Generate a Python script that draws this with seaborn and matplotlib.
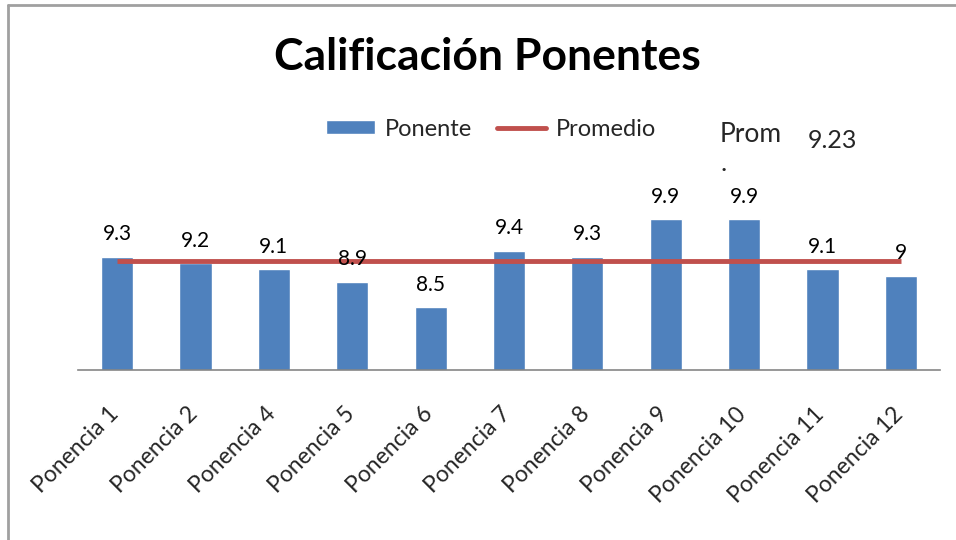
import numpy as np
import pandas as pd
import matplotlib
matplotlib.use("Agg")
import matplotlib.pyplot as plt
import seaborn as sns
from matplotlib.patches import Patch
from matplotlib.lines import Line2D
import matplotlib.transforms as mtransforms

ponencias = ['Ponencia 1', 'Ponencia 2', 'Ponencia 4', 'Ponencia 5', 'Ponencia 6',
             'Ponencia 7', 'Ponencia 8', 'Ponencia 9', 'Ponencia 10', 'Ponencia 11',
             'Ponencia 12']
calificacion = [9.3, 9.2, 9.1, 8.9, 8.5, 9.4, 9.3, 9.9, 9.9, 9.1, 9.0]
promedio = 9.23

sns.set_style("white")
plt.rcParams['font.family'] = ['Lato', 'DejaVu Sans']

df = pd.DataFrame({'ponencia': ponencias, 'calif': calificacion})
df['prom'] = promedio

fig = plt.figure(figsize=(9.56, 5.4), dpi=100)
ax = fig.add_axes([78/956, 170/540, 862/956, 188.6/540])

sns.barplot(data=df, x='ponencia', y='calif', color='#4F81BD', saturation=1,
            width=0.41, ax=ax)
ax.plot(np.arange(len(df)), df['prom'], color='#C0504D', lw=3.5, solid_capstyle='butt')

for con in ax.containers:
    ax.bar_label(con, labels=[f'{v:g}' for v in df['calif']], padding=9,
                 fontsize=15, color='black')

ax.set_ylim(7.5, 10.5)
ax.set_xlim(-0.5, len(df) - 0.5)
ax.set_xlabel('')
ax.set_ylabel('')
ax.set_yticks([])
for s in ['top', 'right', 'left']:
    ax.spines[s].set_visible(False)
ax.spines['bottom'].set_color('#868686')
ax.spines['bottom'].set_linewidth(1.2)
ax.tick_params(axis='x', length=0, pad=24)
ax.set_xticks(np.arange(len(df)))
ax.set_xticklabels(ponencias, rotation=45, ha='right', fontsize=16.5)
off = mtransforms.ScaledTranslation(6/100, 0, fig.dpi_scale_trans)
for lab in ax.get_xticklabels():
    lab.set_transform(lab.get_transform() + off)

fig.text(487/956, 1 - 57/540, 'Calificación Ponentes', ha='center', va='center',
         fontsize=32, fontweight='bold', color='black')

handles = [Patch(facecolor='#4F81BD', label='Ponente'),
           Line2D([0], [0], color='#C0504D', lw=3.5, label='Promedio')]
fig.legend(handles=handles, loc='center', bbox_to_anchor=(491/956, 1 - 129/540),
           ncol=2, frameon=False, fontsize=17, handlelength=2.1, handleheight=0.5,
           handletextpad=0.4, columnspacing=1.05)

fig.text(720/956, 1 - 135/540, 'Prom', ha='left', va='center', fontsize=19)
fig.text(720/956, 1 - 171/540, '.', ha='left', va='baseline', fontsize=19)
fig.text(808/956, 1 - 141/540, '9.23', ha='left', va='center', fontsize=18)

# chart frame
fig.add_artist(Line2D([8/956, 1], [1 - 5/540, 1 - 5/540], color='#a0a0a0', lw=2))
fig.add_artist(Line2D([8/956, 8/956], [0, 1 - 5/540], color='#a0a0a0', lw=2))

fig.savefig('out.png', dpi=100)
